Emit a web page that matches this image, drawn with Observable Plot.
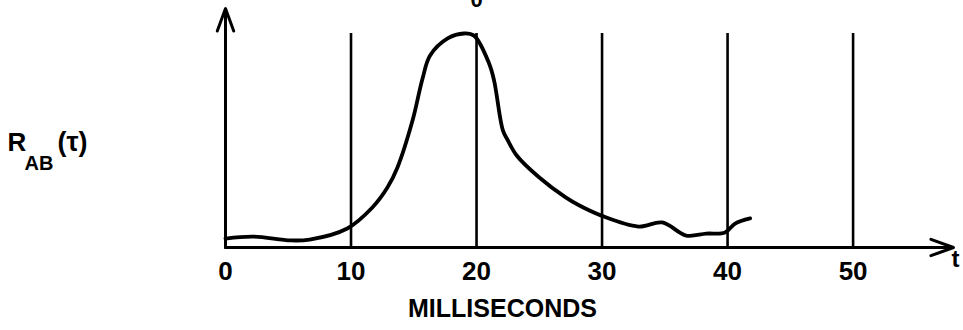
<!DOCTYPE html>
<html>
<head>
<meta charset="utf-8">
<script src="https://cdn.jsdelivr.net/npm/d3@7"></script>
<script src="https://cdn.jsdelivr.net/npm/@observablehq/plot@0.6"></script>
<style>
  html, body { margin: 0; padding: 0; background: #fff; }
  svg { display: block; }
</style>
</head>
<body>
<div id="chart"></div>
<script>
// Time lag tau (milliseconds) and cross-correlation R_AB(tau), in relative units (peak = 100)
const tau = [0, 2.2, 5.2, 6.7, 9.7, 11.7, 12.9, 13.7, 14.9, 15.7, 16.3, 17.7, 19.0, 19.8, 21.0, 21.4, 22.1, 22.5, 23.2, 25.0, 27.1, 28.2, 29.9, 32.9, 34.8, 36.7, 38.3, 39.8, 40.6, 41.8];
const rab = [4.2, 5.1, 3.3, 3.7, 8.9, 18.7, 28, 37.4, 59.3, 79, 89.7, 97.7, 100, 99, 86, 78, 54.7, 50, 43, 32.7, 23.4, 19.6, 15, 9.8, 11.7, 5.6, 6.5, 7, 11.2, 13.6];

// Vertical reference lines and tick labels
const gridTimes = [10, 20, 30, 40, 50];
const tickValues = [0, 10, 20, 30, 40, 50];
const tickLabels = ["0", "10", "20", "30", "40", "50"];

// Axis extents (data units)
const xAxisEnd = 58;
const yAxisEnd = 111.7;
const gridTop = 100;

const data = tau.map((t, i) => ({t, r: rab[i]}));
const font = "'Liberation Sans', Arial, Helvetica, sans-serif";

const chart = Plot.plot({
  width: 963,
  height: 330,
  marginLeft: 225,
  marginRight: 10,
  marginTop: 33,
  marginBottom: 83,
  style: {fontFamily: font, background: "#fff", color: "#000"},
  x: {domain: [0, xAxisEnd]},
  y: {domain: [0, 100], axis: null},
  marks: [
    // vertical lines
    Plot.ruleX(gridTimes, {x: d => d, y1: 0, y2: gridTop, stroke: "#000", strokeWidth: 2.6}),
    // axes with arrows
    Plot.arrow([0], {x1: 0, y1: 0, x2: xAxisEnd, y2: 0, stroke: "#000", strokeWidth: 3, headLength: 12, headAngle: 40}),
    Plot.arrow([0], {x1: 0, y1: 0, x2: 0, y2: yAxisEnd, stroke: "#000", strokeWidth: 3, headLength: 12, headAngle: 40}),
    // the curve
    Plot.line(data, {x: "t", y: "r", curve: "catmull-rom", stroke: "#000", strokeWidth: 3.8, strokeLinejoin: "round", strokeLinecap: "round"}),
    // tick labels
    Plot.axisX({ticks: tickValues, tickFormat: (d) => tickLabels[tickValues.indexOf(d)], tickSize: 0, tickPadding: 14, fontSize: 26, fontWeight: "bold", label: null, stroke: "#000", fill: "#000"}),
    // t label at arrow end
    Plot.text(["t"], {x: xAxisEnd, y: 0, dx: 2, dy: 12, fontSize: 24, fontWeight: "bold", fill: "#000"}),
    // cut-off glyph at top
    Plot.text(["0"], {x: 20, y: 115.5, fontSize: 22, fontWeight: "bold", fill: "#000"}),
    // x axis title
    Plot.text(["MILLISECONDS"], {frameAnchor: "bottom", dx: -87, dy: 69, fontSize: 25, fontWeight: "bold", fill: "#000"}),
    // y label R_AB(tau)
    Plot.text(["R"], {frameAnchor: "left", textAnchor: "start", dx: -218, dy: 2, fontSize: 26, fontWeight: "bold", fill: "#000"}),
    Plot.text(["AB"], {frameAnchor: "left", textAnchor: "start", dx: -201, dy: 23, fontSize: 20, fontWeight: "bold", fill: "#000"}),
    Plot.text(["(τ)"], {frameAnchor: "left", textAnchor: "start", dx: -168, dy: 2, fontSize: 27, fontWeight: "bold", fill: "#000"})
  ]
});
document.getElementById("chart").appendChild(chart);
</script>
</body>
</html>
